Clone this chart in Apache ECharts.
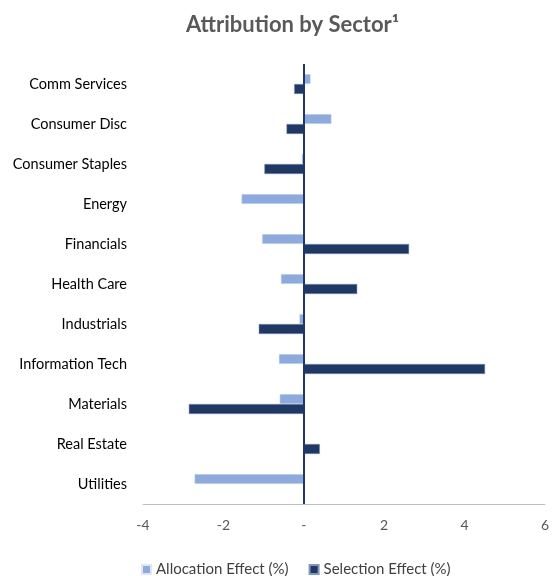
<!DOCTYPE html>
<html>
<head>
<meta charset="utf-8">
<script src="https://cdn.jsdelivr.net/npm/echarts@6/dist/echarts.min.js"></script>
<style>html,body{margin:0;padding:0;background:#fff;}#c{width:552px;height:576px;}</style>
</head>
<body>
<div id="c"></div>
<script>
const categories = ['Comm Services','Consumer Disc','Consumer Staples','Energy','Financials','Health Care','Industrials','Information Tech','Materials','Real Estate','Utilities'];
const allocation = [0.17, 0.69, -0.05, -1.55, -1.04, -0.57, -0.11, -0.62, -0.60, 0, -2.72];
const selection = [-0.24, -0.43, -0.98, 0, 2.62, 1.33, -1.12, 4.51, -2.86, 0.40, 0];
const xTicks = [-4, -2, 0, 2, 4, 6];
const seriesNames = ['Allocation Effect (%)', 'Selection Effect (%)'];

const chart = echarts.init(document.getElementById('c'), null, {renderer: 'canvas'});
const font = 'Lato, "Open Sans", sans-serif';
chart.setOption({
  animation: false,
  title: {
    text: 'Attribution by Sector¹',
    left: 181, top: 9,
    textStyle: {fontFamily: font, fontSize: 22, fontWeight: 'bold', color: '#595959'}
  },
  legend: {
    bottom: -6, left: 136,
    itemWidth: 9, itemHeight: 9, itemGap: 20, icon: 'rect',
    textStyle: {fontFamily: font, fontSize: 15, color: '#404040'},
    data: seriesNames
  },
  grid: {left: 143, right: 5, top: 64, bottom: 72},
  xAxis: {
    type: 'value', min: xTicks[0], max: xTicks[xTicks.length - 1], interval: 2,
    axisLine: {show: true, onZero: false, lineStyle: {color: '#BFBFBF', width: 1}},
    axisTick: {show: false},
    splitLine: {show: false},
    axisLabel: {
      fontFamily: font, fontSize: 14, color: '#595959', margin: 14,
      formatter: v => v === 0 ? '-' : String(v)
    }
  },
  yAxis: {
    type: 'category', data: categories, inverse: true,
    axisLine: {show: false}, axisTick: {show: false},
    axisLabel: {fontFamily: font, fontSize: 14.5, color: '#000000', margin: 16}
  },
  series: [
    {
      name: seriesNames[0], type: 'bar', data: allocation,
      barWidth: 10, barGap: '0%',
      itemStyle: {color: '#8EA9DB', borderColor: '#DCE6F5', borderWidth: 0.5},
      markLine: {
        silent: true, symbol: 'none', label: {show: false},
        lineStyle: {color: '#1F3864', width: 2, type: 'solid'},
        data: [{xAxis: 0}]
      },
      z: 2
    },
    {
      name: seriesNames[1], type: 'bar', data: selection,
      barWidth: 10, barGap: '0%',
      itemStyle: {color: '#203864', borderColor: '#8496B8', borderWidth: 0.5},
      z: 2
    }
  ]
});
</script>
</body>
</html>
